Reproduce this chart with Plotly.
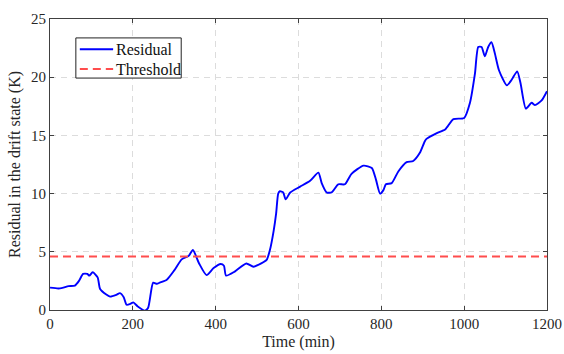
import plotly.graph_objects as go

# Residual of the drift state over time
time_min = [0, 20, 30, 45, 60, 70, 80, 90, 95, 103, 115, 121, 135, 145, 160, 169, 178, 185,
            195, 201, 212, 229, 237, 249, 258, 265, 282, 300, 318, 335, 345, 360, 378, 395,
            412, 420, 425, 446, 474, 491, 510, 523, 531, 540, 546, 551, 555, 563, 569, 580,
            604, 628, 648, 656, 668, 680, 696, 712, 728, 757, 777, 787, 797, 805, 811, 825,
            841, 861, 877, 893, 905, 909, 934, 954, 974, 1000, 1014, 1026, 1034, 1042, 1050,
            1058, 1066, 1074, 1084, 1103, 1115, 1128, 1136, 1149, 1163, 1171, 1187, 1200]
residual = [1.92, 1.85, 1.9, 2.05, 2.1, 2.5, 3.1, 3.1, 2.95, 3.25, 2.8, 1.8, 1.35, 1.15, 1.3,
            1.45, 1.1, 0.45, 0.55, 0.65, 0.3, -0.05, 0.2, 2.35, 2.25, 2.35, 2.6, 3.4, 4.35,
            4.65, 5.15, 4.0, 3.0, 3.6, 3.95, 3.8, 2.95, 3.3, 4.0, 3.72, 4.0, 4.3, 5.15, 6.8,
            8.3, 10.0, 10.2, 10.1, 9.5, 10.1, 10.6, 11.1, 11.8, 10.9, 10.1, 10.1, 10.8, 10.8,
            11.7, 12.4, 12.2, 11.2, 10.0, 10.3, 10.8, 10.9, 11.9, 12.7, 12.8, 13.5, 14.5,
            14.7, 15.2, 15.5, 16.4, 16.5, 17.8, 20.3, 22.6, 22.6, 21.8, 22.6, 23.0, 22.05,
            20.6, 19.3, 19.8, 20.5, 19.5, 17.3, 17.8, 17.6, 18.0, 18.8]
threshold = 4.6

x_ticks = [0, 200, 400, 600, 800, 1000, 1200]
y_ticks = [0, 5, 10, 15, 20, 25]
series_names = ["Residual", "Threshold"]

serif = "Liberation Serif, Times New Roman, serif"
text_color = "#262626"
blue = "#0000ff"
red = "#ff4d4d"
line_w = 1.9
red_dash = "8px,5px"

fig = go.Figure()
fig.add_trace(go.Scatter(
    x=time_min, y=residual, mode="lines", name=series_names[0],
    line=dict(color=blue, width=line_w, shape="spline", smoothing=0.6),
))
fig.add_trace(go.Scatter(
    x=[0, 1200], y=[threshold, threshold], mode="lines", name=series_names[1],
    line=dict(color=red, width=line_w, dash=red_dash),
))

axis_common = dict(
    showline=True, mirror="ticks", linecolor="#404040", linewidth=1,
    ticks="inside", ticklen=4, tickcolor="#404040",
    showgrid=True, gridcolor="#dcdcdc", gridwidth=1, griddash="6px,5px",
    zeroline=False, automargin=False,
    tickfont=dict(family=serif, size=15, color=text_color),
)

fig.update_xaxes(
    range=[0, 1200], tickvals=x_ticks,
    title=dict(text="Time (min)", font=dict(family=serif, size=16, color=text_color), standoff=4),
    **axis_common,
)
fig.update_yaxes(
    range=[0, 25], tickvals=y_ticks,
    title=dict(text="Residual in the drift state (K)", font=dict(family=serif, size=16, color=text_color), standoff=6),
    **axis_common,
)

# Compact boxed legend in the upper-left corner (paper coordinates)
box = dict(x0=0.052, x1=0.264, y0=0.797, y1=0.935)
rows_y = [0.896, 0.828]
sample_x = (0.060, 0.127)
legend_styles = [dict(color=blue, width=line_w), dict(color=red, width=line_w, dash=red_dash)]

shapes = [dict(type="rect", xref="paper", yref="paper", **box,
               line=dict(color="#222222", width=1), fillcolor="white", layer="above")]
annotations = []
for name, yy, style in zip(series_names, rows_y, legend_styles):
    shapes.append(dict(type="line", xref="paper", yref="paper",
                       x0=sample_x[0], x1=sample_x[1], y0=yy, y1=yy,
                       line=style, layer="above"))
    annotations.append(dict(xref="paper", yref="paper", x=sample_x[1] + 0.002, y=yy,
                            xanchor="left", yanchor="middle", showarrow=False, text=name,
                            font=dict(family=serif, size=16, color="#111111")))

fig.update_layout(
    width=564, height=354,
    margin=dict(l=50, r=17, t=19, b=44),
    plot_bgcolor="white", paper_bgcolor="white",
    showlegend=False,
    shapes=shapes,
    annotations=annotations,
)

fig.write_html("out.html")
